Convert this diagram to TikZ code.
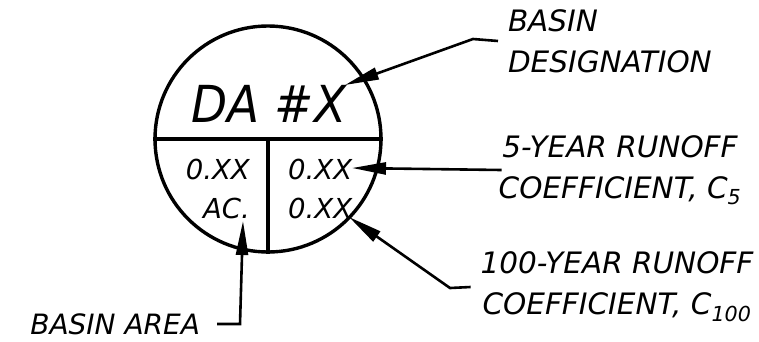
\documentclass[tikz,border=0pt]{standalone}
\usepackage{fontspec}
\setmainfont{DejaVu Sans}
\newfontfamily\tagfont{DejaVu Sans}[FakeStretch=0.92]
\usetikzlibrary{arrows.meta}

\tikzset{
  leader/.style={line width=2.6pt, -{Triangle[length=34pt, width=12pt]}},
  labelbox/.style={inner sep=0pt, font=\fontsize{29.5}{41}\selectfont\itshape},
  valuebox/.style={inner sep=0pt, font=\fontsize{27.5}{39}\selectfont\itshape}
}

\begin{document}
\begin{tikzpicture}[x=1pt, y=-1pt]
    \useasboundingbox (0,0) rectangle (759,341);

    % Basin symbol
    \node[draw, circle, line width=3.4pt, minimum size=226pt] (da) at (268,139) {};
    \draw[line width=3.4pt] (da.west) -- (da.east);
    \draw[line width=3.2pt] (da.center) -- (da.south);
    \node[inner sep=0pt, anchor=base, font=\tagfont\fontsize{51}{54}\selectfont\itshape] (name) at (269,122) {DA \#X};
    \node[valuebox, align=right, anchor=east] (area) at (250,189) {0.XX\\AC.};
    \node[valuebox, align=left, anchor=west] (coef) at (288,189) {0.XX\\0.XX};

    % Labels
    \node[labelbox, align=left, anchor=west, outer sep=10pt] (desig) at (498,41) {BASIN\\DESIGNATION};
    \node[labelbox, align=center, outer sep=-3pt] (cfive) at (620,170) {5-YEAR RUNOFF\\COEFFICIENT, C\textsubscript{5}};
    \node[labelbox, align=center, outer sep=10pt] (chund) at (617,287) {100-YEAR RUNOFF\\COEFFICIENT, C\textsubscript{100}};
    \node[labelbox, anchor=east, outer sep=17pt, font=\fontsize{28}{39}\selectfont\itshape] (areatext) at (217,324) {BASIN AREA};

    % Leader tips and knees
    \coordinate (desigtip) at (345,85);
    \coordinate (desigknee) at (473,39);
    \coordinate (cfivetip) at (352,168);
    \coordinate (chundtip) at (349,217);
    \coordinate (chundknee) at (450,288);
    \coordinate (areatip) at (243,221);
    \coordinate (areaknee) at (240,324);

    % Leaders
    \draw[leader] (desig.west) -- (desigknee) -- (desigtip);
    \draw[leader] (cfive.west) -- (cfivetip);
    \draw[leader] (chund.west) -- (chundknee) -- (chundtip);
    \draw[leader] (areatext.east) -- (areaknee) -- (areatip);
\end{tikzpicture}
\end{document}
